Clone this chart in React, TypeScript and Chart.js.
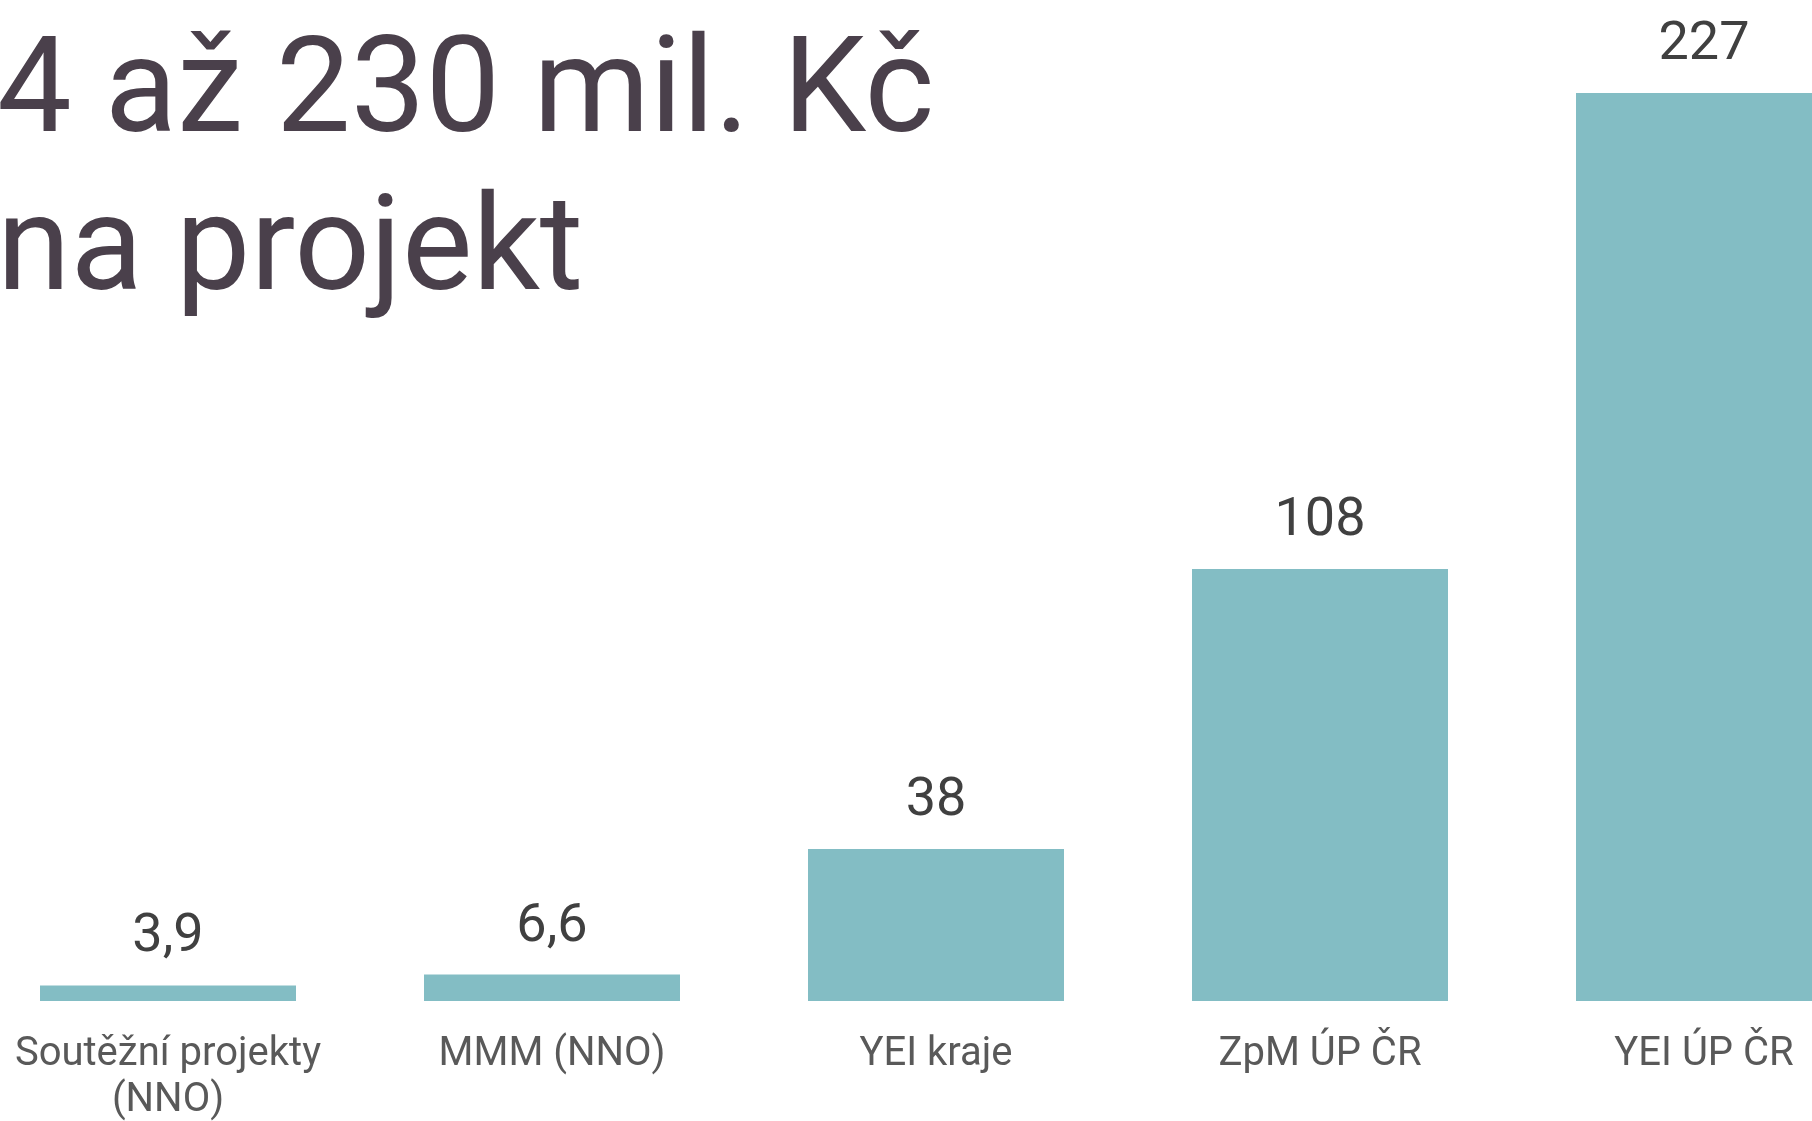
import React, { useEffect, useRef } from "react";
import { Chart, registerables } from "chart.js";

Chart.register(...registerables);

const categories: string[][] = [
  ["Soutěžní projekty", "(NNO)"],
  ["MMM (NNO)"],
  ["YEI kraje"],
  ["ZpM ÚP ČR"],
  ["YEI ÚP ČR"],
];
const values: number[] = [3.9, 6.6, 38, 108, 227];
const titleLines: string[] = ["4 až 230 mil. Kč", "na projekt"];
const yMax = 250;

const BAR_COLOR = "#83bdc4";
const TITLE_COLOR = "#4a404b";
const VALUE_COLOR = "#404040";
const TICK_COLOR = "#595959";

const fmt = (v: number) => String(v).replace(".", ",");

const valueLabels = {
  id: "valueLabels",
  afterDatasetsDraw(chart: any) {
    const ctx = chart.ctx;
    const meta = chart.getDatasetMeta(0);
    ctx.save();
    ctx.font = "54px Roboto";
    ctx.fillStyle = VALUE_COLOR;
    ctx.textAlign = "center";
    ctx.textBaseline = "alphabetic";
    meta.data.forEach((bar: any, i: number) => {
      ctx.fillText(fmt(values[i]), bar.x, bar.y - 34);
    });
    ctx.restore();
  },
};

const bigTitle = {
  id: "bigTitle",
  afterDraw(chart: any) {
    const ctx = chart.ctx;
    ctx.save();
    ctx.font = "133px Roboto";
    ctx.fillStyle = TITLE_COLOR;
    ctx.textAlign = "left";
    ctx.textBaseline = "alphabetic";
    ctx.fillText(titleLines[0], 21, 131);
    ctx.fillText(titleLines[1], 21, 289);
    ctx.restore();
  },
};

export default function App() {
  const ref = useRef<HTMLCanvasElement | null>(null);

  useEffect(() => {
    if (!ref.current) return;
    const chart = new Chart(ref.current, {
      type: "bar",
      data: {
        labels: categories,
        datasets: [
          {
            data: values,
            backgroundColor: BAR_COLOR,
            borderWidth: 0,
            barPercentage: 256 / 384,
            categoryPercentage: 1,
          },
        ],
      },
      options: {
        responsive: false,
        animation: false,
        layout: { padding: { top: 1, left: 0, right: 0, bottom: 0 } },
        plugins: {
          legend: { display: false },
          title: { display: false },
          tooltip: { enabled: false },
        },
        scales: {
          x: {
            type: "category",
            offset: true,
            grid: { display: false, drawTicks: false },
            border: { display: false },
            afterFit(scale: any) {
              scale.height = 120;
            },
            ticks: {
              autoSkip: false,
              maxRotation: 0,
              minRotation: 0,
              padding: 31,
              color: TICK_COLOR,
              font: { family: "Roboto", size: 40, lineHeight: 1.15 },
            },
          },
          y: {
            display: false,
            min: 0,
            max: yMax,
          },
        },
      },
      plugins: [valueLabels, bigTitle],
    });
    (document as any).fonts?.ready?.then(() => chart.update());
    return () => chart.destroy();
  }, []);

  return (
    <div
      style={{
        position: "fixed",
        top: 0,
        left: 0,
        width: 1812,
        height: 1121,
        overflow: "hidden",
        background: "#ffffff",
      }}
    >
      <canvas
        ref={ref}
        width={1920}
        height={1121}
        style={{ position: "absolute", left: -24, top: 0, width: 1920, height: 1121 }}
      />
    </div>
  );
}
